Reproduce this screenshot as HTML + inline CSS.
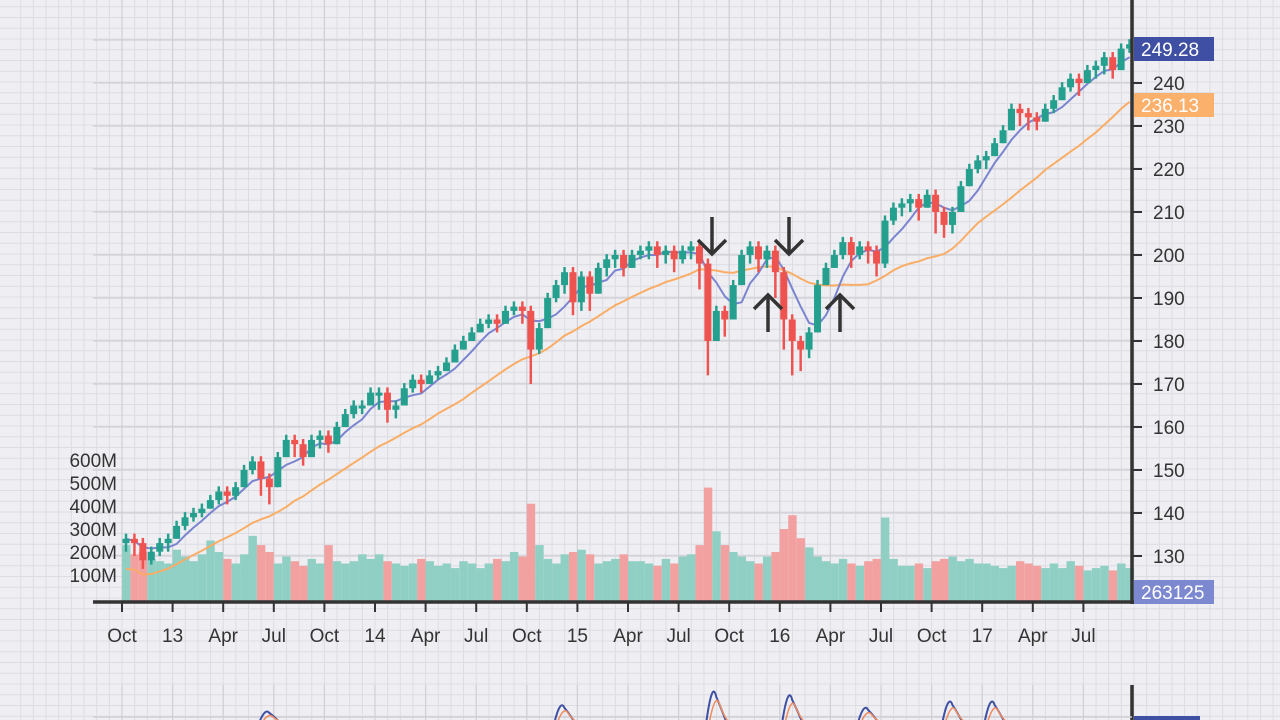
<!DOCTYPE html>
<html><head><meta charset="utf-8">
<style>
html,body{margin:0;padding:0;background:#efeff3;}
svg{display:block;font-family:"Liberation Sans",sans-serif;}
</style></head>
<body>
<svg id="chart" width="1280" height="720" viewBox="0 0 1280 720" xmlns="http://www.w3.org/2000/svg">
<rect width="1280" height="720" fill="#efeff3"/>
<g id="grid"></g>
<g id="vol"></g>
<g id="ma"></g>
<g id="candles"></g>
<g id="axes"></g>
<g id="ann"></g>
<g id="sub"></g>
</svg>
<script>
const months = ["Oct","13","Apr","Jul","Oct","14","Apr","Jul","Oct","15","Apr","Jul","Oct","16","Apr","Jul","Oct","17","Apr","Jul"];
const priceTicks = [130,140,150,160,170,180,190,200,210,220,230,240];
const volTicks = [100,200,300,400,500,600];
const volTickLabels = ["100M","200M","300M","400M","500M","600M"];
const closes = [134,133,129,131,133,134,
137,139,140,141,143,145,144,146,150,152,148,146,153,157,156,153,157,158,156,160,163,165,165,168,
168,164,165,169,171,170,172,173,175,178,180,182,184,185,184,187,188,187,178,183,190,193,196,189,
195,191,197,199,200,197,200,201,202,200,201,199,201,202,198,180,187,185,193,200,202,199,201,196,
185,180,178,182,193,197,200,203,200,202,201,198,208,211,212,213,211,214,210,207,210,216,220,222,
223,226,229,234,233,232,231,234,236,239,241,240,243,244,246,243,248,249];
const lows = [131,130,127,128,130,131,
134,136,138,139,141,142,142,143,146,149,144,142,149,153,153,151,153,155,154,156,160,162,163,165,
164,161,162,166,168,168,170,171,173,175,178,180,182,183,182,184,186,184,170,177,186,189,191,186,
187,187,193,195,197,195,197,199,199,197,198,196,198,199,192,172,180,181,186,195,198,196,197,190,
178,172,173,176,186,193,197,199,197,199,198,195,197,207,209,210,208,211,205,204,205,211,216,219,
220,223,226,230,230,229,229,231,233,236,238,237,240,241,242,241,243,247];
const volumes = [230,190,200,170,160,150,
210,180,160,190,250,200,170,150,190,270,230,200,150,180,160,140,170,150,230,160,150,160,190,170,
190,160,150,140,150,170,160,140,150,130,160,150,130,150,170,160,200,180,410,230,170,150,190,200,
210,190,150,160,170,190,160,160,150,140,170,150,180,190,230,480,290,230,200,180,160,150,180,200,
300,360,260,220,180,160,150,170,150,140,160,170,350,170,140,140,150,130,160,170,180,160,170,150,
150,140,130,140,160,150,140,130,150,130,160,140,120,130,140,120,150,130];
const subPeakIdx = [17,52,70,79,88,98,103];
const subPeakVal = [7,12,23,20,10,15,15];

const NS="http://www.w3.org/2000/svg";
function mk(tag,attrs,parent){const e=document.createElementNS(NS,tag);for(const k in attrs)e.setAttribute(k,attrs[k]);parent.appendChild(e);return e;}
const X0=122, STEP=50.6/6, PL=93, PR=1132, AXY=602;
const xAt=i=>X0+4+i*STEP;
const yP=p=>556-(p-130)*4.3;
const yV=v=>598-v*0.23;
const xTick=k=>X0+k*50.6;

const grid=document.getElementById('grid');
for(let y=-4;y<=720;y+=10.75){mk('line',{x1:0,x2:1280,y1:y,y2:y,stroke:'#dcdce3','stroke-width':1},grid);}
for(let x=X0-101.2;x<=1280;x+=12.65){mk('line',{x1:x,x2:x,y1:0,y2:720,stroke:'#dcdce3','stroke-width':1},grid);}
priceTicks.forEach(p=>{const l=mk('line',{x1:PL,x2:PR,y1:yP(p),y2:yP(p),stroke:'#cfcfd6','stroke-width':1.2},grid);

});
mk('line',{x1:PL,x2:PR,y1:yP(250),y2:yP(250),stroke:'#cfcfd6','stroke-width':1.2},grid);
months.forEach((m,k)=>{const l=mk('line',{x1:xTick(k),x2:xTick(k),y1:0,y2:AXY,stroke:'#cfcfd6','stroke-width':1.2},grid);


mk('line',{x1:xTick(k),x2:xTick(k),y1:685,y2:720,stroke:'#cfcfd6','stroke-width':1.2},grid);});

const vol=document.getElementById('vol');
volumes.forEach((v,i)=>{const up=i===0?true:closes[i]>=closes[i-1];
const r=mk('rect',{x:xAt(i)-4,y:yV(v),width:8.4,height:598-yV(v)+4,fill:up?'#8fcfc4':'#f2a0a0'},vol);

});

function sma(n){return closes.map((c,i)=>{const s=closes.slice(Math.max(0,i-n+1),i+1);return s.reduce((a,b)=>a+b,0)/s.length;});}
const ma=document.getElementById('ma');
const blue=sma(5), orange=sma(20);
const orangeAdj=orange.map((v,i)=>i<20? v-7*(20-i)/20 : v);
const pl=(arr,col,name,w)=>{const p=mk('polyline',{points:arr.map((v,i)=>xAt(i)+','+yP(v)).join(' '),fill:'none',stroke:col,'stroke-width':w},ma);

};
pl(orangeAdj,'#f9ad66','ma-long-line',2);
pl(blue,'#7a84cf','ma-short-line',2);

const cg=document.getElementById('candles');
closes.forEach((c,i)=>{const o=i===0?c-1:closes[i-1];const up=c>=o;const col=up?'#26a08e':'#ef5350';
const lo=Math.min(lows[i],o,c), hi=Math.max(o,c)+1.2;
const w=mk('line',{x1:xAt(i),x2:xAt(i),y1:yP(hi),y2:yP(lo),stroke:col,'stroke-width':2.5},cg);


const b=mk('rect',{x:xAt(i)-3.5,y:yP(Math.max(o,c)),width:7,height:Math.max(3,Math.abs(yP(o)-yP(c))),fill:col},cg);

});

const ax=document.getElementById('axes');
mk('line',{x1:PL,x2:PR+2,y1:AXY,y2:AXY,stroke:'#333',"stroke-width":3.5},ax);
mk('line',{x1:PR,x2:PR,y1:0,y2:AXY+2,stroke:'#333',"stroke-width":3.5},ax);
months.forEach((m,k)=>{mk('line',{x1:xTick(k),x2:xTick(k),y1:AXY,y2:AXY+10,stroke:'#333','stroke-width':2},ax);
const t=mk('text',{x:xTick(k),y:642,'text-anchor':'middle','font-size':19,fill:'#333'},ax);t.textContent=m;

});
priceTicks.forEach(p=>{mk('line',{x1:PR,x2:PR+10,y1:yP(p),y2:yP(p),stroke:'#333','stroke-width':2},ax);
const t=mk('text',{x:PR+21,y:yP(p)+7,'font-size':19,fill:'#333'},ax);t.textContent=p;

});
volTicks.forEach((v,k)=>{const t=mk('text',{x:117,y:yV(v)+7,'text-anchor':'end','font-size':19,fill:'#333'},ax);t.textContent=volTickLabels[k];

});
function badge(y,txt,bg,name){const r=mk('rect',{x:1134,y:y-12,width:80,height:24,fill:bg},ax);


const t=mk('text',{x:1141,y:y+7,'font-size':19,fill:'#fff'},ax);t.textContent=txt;}
badge(49,'249.28','#3f4fa3','last-price-badge');
badge(105,'236.13','#fbb06c','ma-price-badge');
badge(592,'263125','#7c88cf','volume-badge');

const ann=document.getElementById('ann');
function arrow(x,y1,y2,name){const g=mk('g',{stroke:'#333','stroke-width':3.5,fill:'none'},ann);


mk('line',{x1:x,x2:x,y1:y1,y2:y2},g);const d=y2>y1?-1:1;
mk('polyline',{points:`${x-14},${y2+d*14} ${x},${y2} ${x+14},${y2+d*14}`},g);}
arrow(712,217,254,'down-arrow-1');
arrow(789,217,254,'down-arrow-2');
arrow(768,332,295,'up-arrow-1');
arrow(840,332,295,'up-arrow-2');

const sub=document.getElementById('sub');
mk('line',{x1:PR,x2:PR,y1:685,y2:720,stroke:'#333','stroke-width':3.5},sub);
mk('line',{x1:PL,x2:PR,y1:717,y2:717,stroke:'#cfcfd6','stroke-width':1.5},sub);
mk('rect',{x:1134,y:716,width:66,height:6,fill:'#3f4fa3'},sub);
subPeakIdx.forEach((idx,k)=>{const x=xAt(idx),h=subPeakVal[k];
const a=mk('path',{d:`M${x-10},722 Q${x-4},${720-h*1.8} ${x},${720-h} Q${x+4},${720-h*0.6} ${x+10},722`,fill:'none',stroke:'#3f4fa3','stroke-width':2},sub);


mk('path',{d:`M${x-7},722 Q${x-1},${722-h*1.3} ${x+3},${722-h*0.8} Q${x+7},${722-h*0.3} ${x+12},722`,fill:'none',stroke:'#f08a5d','stroke-width':1.5},sub);});
</script>
</body></html>
